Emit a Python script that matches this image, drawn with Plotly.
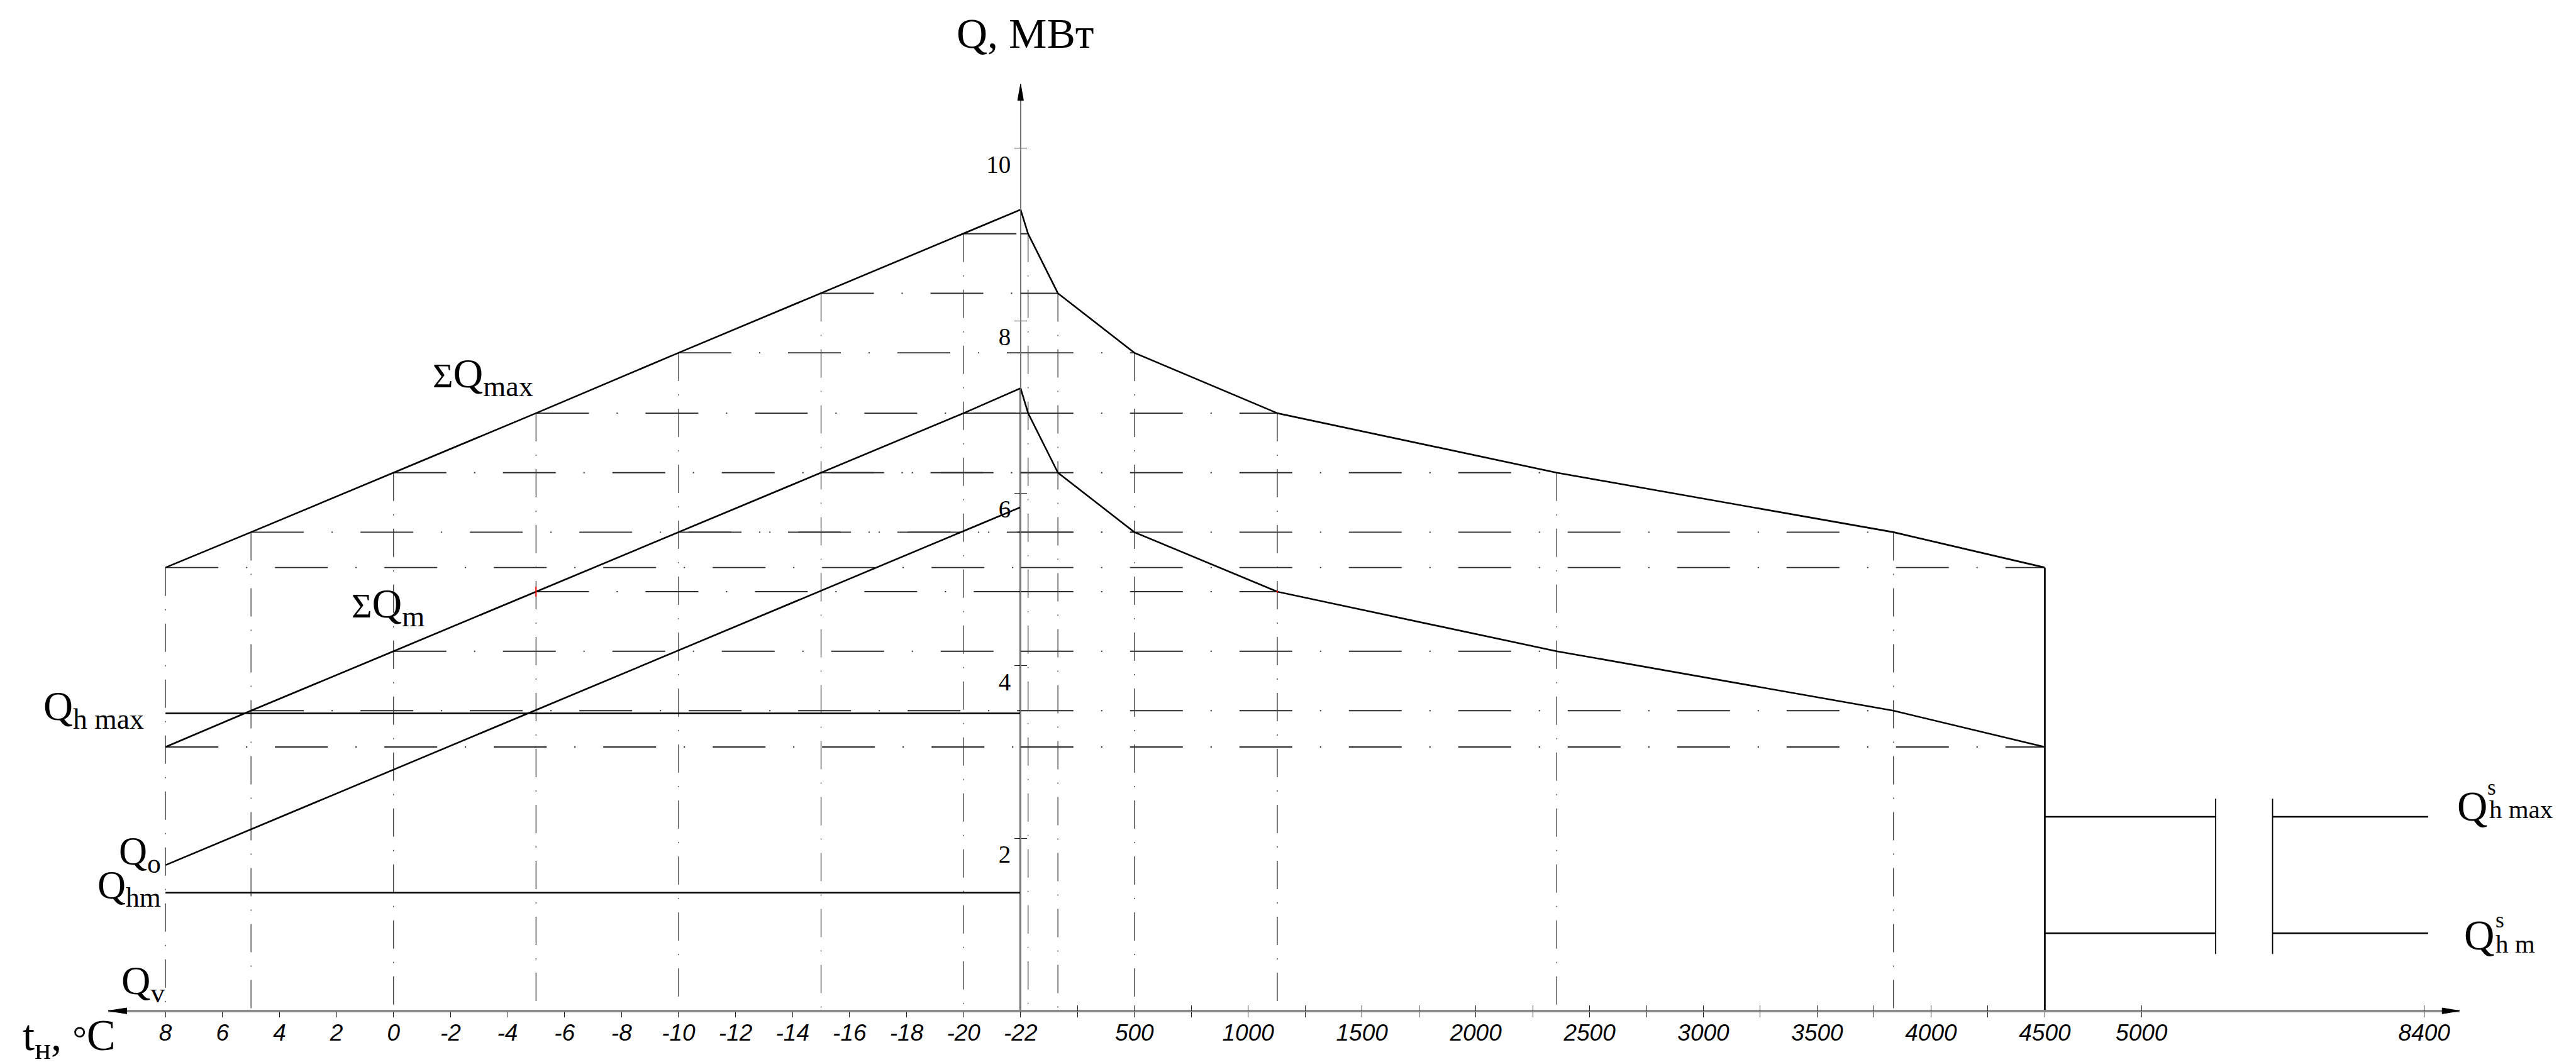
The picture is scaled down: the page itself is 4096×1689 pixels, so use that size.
import plotly.graph_objects as go

# ---------------- data ----------------
temps = [8, 5, 0, -5, -10, -15, -20, -22]            # outdoor temperature, °C
hours = [4500, 3835, 2355, 1128, 500, 164, 33, 0]     # duration of these temperatures, h
sum_q_max = [5.14, 5.55, 6.24, 6.93, 7.63, 8.32, 9.01, 9.29]   # ΣQmax, MW
sum_q_m = [3.06, 3.48, 4.17, 4.86, 5.55, 6.24, 6.93, 7.22]     # ΣQm, MW
qo_temps = [8, -22]
qo_vals = [1.69, 5.84]            # Qo, MW
q_h_max = 3.45                    # Qh max, MW
q_h_m = 1.37                      # Qhm, MW
q_v = 0.0                         # Qv, MW
summer_hours_1 = [4500, 5383]
summer_hours_2 = [7616, 8420]
q_s_h_max = 2.25                  # summer Qh max, MW
q_s_h_m = 0.90                    # summer Qhm, MW
break_q = [0.66, 2.46]

temp_ticks = [8, 6, 4, 2, 0, -2, -4, -6, -8, -10, -12, -14, -16, -18, -20, -22]
temp_labels = ["8", "6", "4", "2", "0", "-2", "-4", "-6", "-8", "-10", "-12", "-14",
               "-16", "-18", "-20", "-22"]
hour_ticks = [250, 500, 750, 1000, 1250, 1500, 1750, 2000, 2250, 2500, 2750, 3000,
              3250, 3500, 3750, 4000, 4250, 4500]
hour_labels = ["", "500", "", "1000", "", "1500", "", "2000", "", "2500", "", "3000",
               "", "3500", "", "4000", "", "4500"]
summer_ticks_1 = [5000]
summer_ticks_2 = [8400]
q_ticks = [2, 4, 6, 8, 10]
q_labels = ["2", "4", "6", "8", "10"]

# ---------------- geometry (reference pixels) ----------------
REF_W, REF_H = 4401, 1815
W, H = 4096, 1689
K = W / REF_W


def px(x):
    return x / REF_W


def py(y):
    return 1 - y / REF_H


X_TIP_L, X_T_HI, X_AXIS, X_4500 = 178, 277, 1753, 3521
X_CUT, X_8400, X_TIP_R = 3900, 4176, 4237
Y_ZERO, Y_TEN, Y_TIP = 1719, 245, 135
PX_PER_DEG = (X_AXIS - X_T_HI) / (temps[0] - temps[-1])
PX_PER_Q = (Y_ZERO - Y_TEN) / 10
PX_PER_H_S = 0.334
Q_PAD = 0.025

x_range = [temps[0] + (X_T_HI - X_TIP_L) / PX_PER_DEG, temps[-1]]
x2_range = [0, hours[0]]
x3_range = [hours[0], hours[0] + (X_CUT - X_4500) / PX_PER_H_S]
x4_range = [8400 - (X_8400 - X_CUT) / PX_PER_H_S, 8400 + (X_TIP_R - X_8400) / PX_PER_H_S]
y_range = [-Q_PAD, (Y_ZERO - Y_TIP) / PX_PER_Q]

SERIF = "Liberation Serif, Times New Roman, serif"
SANS = "Liberation Sans, Arial, sans-serif"

MAIN = dict(color="black", width=2.6)
HDASH = dict(color="#2a2a2a", width=1.9, dash=f"{90*K:.0f}px,{47*K:.0f}px,2px,{47*K:.0f}px")
VDASH = dict(color="#3c3c3c", width=1.3, dash=f"{48*K:.0f}px,{23*K:.0f}px,2px,{23*K:.0f}px")

fig = go.Figure()


def line(x, y, style, xa="x", ya="y"):
    fig.add_trace(go.Scatter(x=x, y=y, mode="lines", line=style, xaxis=xa, yaxis=ya,
                             showlegend=False, hoverinfo="skip"))


# dash-dot construction lines
for i in range(len(temps) - 1):
    for lev in (sum_q_max[i], sum_q_m[i]):
        line([temps[i], temps[-1]], [lev, lev], HDASH, "x")
        line([hours[-1], hours[i]], [lev, lev], HDASH, "x2")
    line([temps[i], temps[i]], [sum_q_max[i], 0], VDASH, "x")
for i in range(1, len(hours) - 1):
    line([hours[i], hours[i]], [sum_q_max[i], 0], VDASH, "x2")

# main curves - heating season (temperature part)
line(temps, sum_q_max, MAIN, "x")
line(temps, sum_q_m, MAIN, "x")
line(qo_temps, qo_vals, MAIN, "x")
line([temps[0], temps[-1]], [q_h_max, q_h_max], MAIN, "x")
line([temps[0], temps[-1]], [q_h_m, q_h_m], MAIN, "x")
line([temps[0], temps[-1]], [q_v, q_v], dict(color="black", width=3.2), "x")
line([temps[-1], temps[-1]], [0, sum_q_m[-1]], dict(color="black", width=2.8), "x")

# duration curves (hours part)
line(hours, sum_q_max, MAIN, "x2")
line(hours, sum_q_m, MAIN, "x2")
line([hours[0], hours[0]], [0, sum_q_max[0]], dict(color="black", width=2.8), "x2")
line([hours[0], hours[0]], [0, sum_q_max[0]], dict(color="black", width=2.8), "x3")

# summer hot water load with a break
for lev in (q_s_h_max, q_s_h_m):
    line(summer_hours_1, [lev, lev], MAIN, "x3")
    line(summer_hours_2, [lev, lev], MAIN, "x4")
line([summer_hours_1[1]] * 2, break_q, dict(color="black", width=1.8), "x3")
line([summer_hours_2[0]] * 2, break_q, dict(color="black", width=1.8), "x4")

# small red marks
fig.add_trace(go.Scatter(x=[temps[3]], y=[sum_q_m[3]], mode="markers", xaxis="x", yaxis="y",
                         marker=dict(symbol="line-ns", size=12 * K, line=dict(color="red", width=2)),
                         showlegend=False, hoverinfo="skip"))
fig.add_trace(go.Scatter(x=[hours[3]], y=[sum_q_m[3]], mode="markers", xaxis="x2", yaxis="y",
                         marker=dict(symbol="circle", size=3, color="red"),
                         showlegend=False, hoverinfo="skip"))

# empty traces so that overlay axes (tick marks on the other side) are drawn
for xa, ya in (("x5", "y"), ("x6", "y"), ("x7", "y"), ("x", "y2")):
    fig.add_trace(go.Scatter(x=[], y=[], xaxis=xa, yaxis=ya, showlegend=False, hoverinfo="skip"))

TICKLEN = round(10 * K)
xtickfont = dict(family=SANS, size=37, color="black", style="italic")
common_x = dict(anchor="free", position=py(Y_ZERO), showgrid=False, zeroline=False,
                showline=True, linecolor="#8c8c8c", linewidth=3.5, ticks="outside",
                ticklen=TICKLEN, tickwidth=1.4, tickcolor="#222", tickfont=xtickfont,
                tickmode="array", fixedrange=True, ticklabelstandoff=-8)
top_x = dict(anchor="free", position=py(Y_ZERO), side="top", showgrid=False, zeroline=False,
             showline=False, ticks="outside", ticklen=TICKLEN, tickwidth=1.4, tickcolor="#222",
             showticklabels=False, tickmode="array")

fig.update_layout(
    width=W, height=H, autosize=False,
    margin=dict(l=0, r=0, t=0, b=0, pad=0),
    paper_bgcolor="white", plot_bgcolor="rgba(0,0,0,0)",
    showlegend=False,
    xaxis=dict(domain=[px(X_TIP_L), px(X_AXIS)], range=x_range,
               tickvals=temp_ticks, ticktext=temp_labels, **common_x),
    xaxis2=dict(domain=[px(X_AXIS), px(X_4500)], range=x2_range,
                tickvals=hour_ticks, ticktext=hour_labels, **common_x),
    xaxis3=dict(domain=[px(X_4500), px(X_CUT)], range=x3_range,
                tickvals=summer_ticks_1, ticktext=[str(v) for v in summer_ticks_1], **common_x),
    xaxis4=dict(domain=[px(X_CUT), px(X_TIP_R)], range=x4_range,
                tickvals=summer_ticks_2, ticktext=[str(v) for v in summer_ticks_2], **common_x),
    xaxis5=dict(overlaying="x2", range=x2_range, tickvals=hour_ticks, **top_x),
    xaxis6=dict(overlaying="x3", range=x3_range, tickvals=summer_ticks_1, **top_x),
    xaxis7=dict(overlaying="x4", range=x4_range, tickvals=summer_ticks_2, **top_x),
    yaxis=dict(domain=[py(Y_ZERO + Q_PAD * PX_PER_Q), py(Y_TIP)], range=y_range,
               anchor="free", position=px(X_AXIS), showgrid=False, zeroline=False,
               showline=True, linecolor="#777777", linewidth=1.6,
               ticks="outside", ticklen=TICKLEN, tickwidth=1.4, tickcolor="#222",
               tickmode="array", tickvals=q_ticks, ticktext=q_labels,
               tickfont=dict(family=SERIF, size=39, color="black"),
               ticklabelshift=25, ticklabelstandoff=-2),
    yaxis2=dict(overlaying="y", range=y_range, anchor="free", position=px(X_AXIS),
                side="right", showgrid=False, zeroline=False, showline=False,
                ticks="outside", ticklen=TICKLEN, tickwidth=1.4, tickcolor="#222",
                tickmode="array", tickvals=q_ticks, showticklabels=False),
)

# axis arrowheads
arrow_paths = [
    [(X_AXIS, Y_TIP), (X_AXIS - 5, Y_TIP + 28), (X_AXIS + 5, Y_TIP + 28)],
    [(X_TIP_L, Y_ZERO), (X_TIP_L + 32, Y_ZERO - 5), (X_TIP_L + 32, Y_ZERO + 5)],
    [(X_TIP_R, Y_ZERO), (X_TIP_R - 30, Y_ZERO - 5), (X_TIP_R - 30, Y_ZERO + 5)],
]
for pts in arrow_paths:
    path = "M " + " L ".join(f"{px(a):.6f},{py(b):.6f}" for a, b in pts) + " Z"
    fig.add_shape(type="path", path=path, xref="paper", yref="paper",
                  fillcolor="black", line=dict(color="black", width=1))


def label(text, x, y, size, xanchor="left", yanchor="middle"):
    fig.add_annotation(text=text, x=px(x), y=py(y), xref="paper", yref="paper",
                       showarrow=False, xanchor=xanchor, yanchor=yanchor,
                       font=dict(family=SERIF, size=size * K, color="black"), borderpad=0)


def sz(v):
    return f"{v*K:.1f}px"


label("Q, МВт", 1761, 48, 73, "center")
label(f'<span style="font-size:{sz(60)}">Σ</span>Q<sub>max</sub>', 737, 635, 71)
label(f'<span style="font-size:{sz(60)}">Σ</span>Q<sub>m</sub>', 597, 1028, 71)
label("Q<sub>h max</sub>", 241, 1204, 70, "right")
label("Q<sub>o</sub>", 270, 1451, 67, "right")
label("Q<sub>hm</sub>", 270, 1509, 67, "right")
label("Q<sub>v</sub>", 277, 1672, 69, "right")
label(f't<sub>н</sub>, <span style="font-size:{sz(60)}">°</span>C', 29, 1766, 74)

label("Q", 4232, 1369, 72)
label("s", 4284, 1337, 38)
label("h max", 4287, 1375, 44)
label("Q", 4244, 1589, 72)
label("s", 4298, 1564, 38)
label("h m", 4298, 1605, 44)

fig.write_html("out.html")
